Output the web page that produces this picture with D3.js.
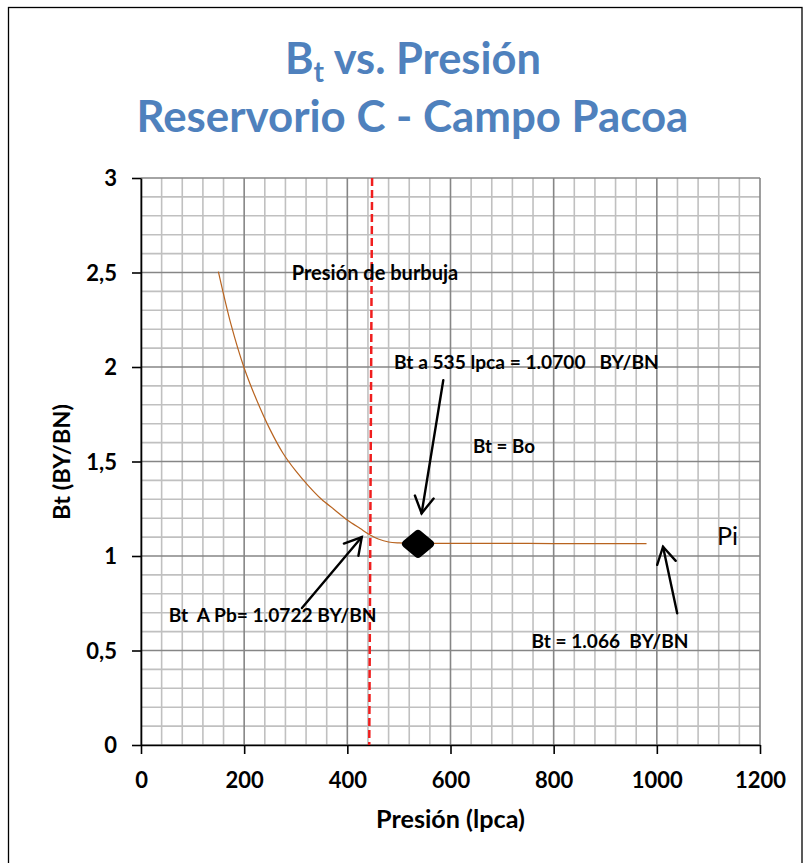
<!DOCTYPE html>
<html><head><meta charset="utf-8">
<script src="https://cdn.jsdelivr.net/npm/d3@7"></script>
<style>
html,body{margin:0;padding:0;background:#fff;}
text{font-family:Lato,"Noto Sans",sans-serif;}
</style></head>
<body>
<script>
// ---- data ----
const pressure = [150,175,200,225,250,275,300,325,350,375,400,425,445,460,480,500,535,600,700,800,900,980];
const btValues = [2.505,2.22,1.995,1.82,1.67,1.545,1.45,1.37,1.30,1.245,1.19,1.145,1.11,1.09,1.074,1.069,1.067,1.067,1.067,1.066,1.066,1.066];
const markerPoint = [{p:537, bt:1.064}];
const bubbleLine = [{p:448, bt:3.0},{p:442.5, bt:0}];
const xTicks = [0,200,400,600,800,1000,1200];
const yTicks = [0,0.5,1,1.5,2,2.5,3];
const arrows = [
  {from:[586,1.93], to:[544,1.226]},
  {from:[312,0.725], to:[428,1.10]},
  {from:[1039.5,0.697], to:[1012,1.049]}
];
const labels = [
  {text:"Presión de burbuja", p:292.2, bt:2.460},
  {text:"Bt a 535 lpca = 1.0700   BY/BN", p:490.5, bt:1.989},
  {text:"Bt = Bo", p:643.6, bt:1.545},
  {text:"Bt  A Pb= 1.0722 BY/BN", p:53.7, bt:0.652},
  {text:"Bt = 1.066  BY/BN", p:757, bt:0.512},
  {text:"Pi", p:1116.6, bt:1.058}
];
const labelWidths = [166.7, 265, 62, 208, 157, 21];
const labelWeights = ["bold","bold","bold","bold","bold","normal"];

// ---- layout ----
const W = 809, H = 863;
const svg = d3.select("body").append("svg").attr("width", W).attr("height", H);
svg.append("rect").attr("width", W).attr("height", H).attr("fill", "#fff");
svg.append("rect").attr("x", 8.5).attr("y", 7.5).attr("width", 793.5).attr("height", 880)
  .attr("fill", "none").attr("stroke", "#000").attr("stroke-width", 1.3);

const x = d3.scaleLinear().domain([0,1200]).range([141,760]);
const y = d3.scaleLinear().domain([0,3]).range([745,178]);

function fit(sel, target){
  const w = sel.node().getComputedTextLength();
  const fs = parseFloat(sel.attr("font-size"));
  sel.attr("font-size", fs*target/w);
}

// gridlines
const g = svg.append("g");
const minorX = d3.range(0, 1201, 40), minorY = d3.range(0, 31).map(d => d/10);
g.selectAll(".mx").data(minorX.filter(d => d % 200 !== 0)).join("line")
  .attr("x1", d => x(d)).attr("x2", d => x(d)).attr("y1", y(0)).attr("y2", y(3))
  .attr("stroke", "#c0c0c0").attr("stroke-width", 1.6);
g.selectAll(".my").data(minorY.filter(d => Math.round(d*10) % 5 !== 0)).join("line")
  .attr("class","my")
  .attr("x1", x(0)).attr("x2", x(1200)).attr("y1", d => y(d)).attr("y2", d => y(d))
  .attr("stroke", "#c0c0c0").attr("stroke-width", 1.6);
g.selectAll(".MX").data(xTicks).join("line").attr("class","MX")
  .attr("x1", d => x(d)).attr("x2", d => x(d)).attr("y1", y(0)).attr("y2", y(3))
  .attr("stroke", "#868686").attr("stroke-width", 1.6);
g.selectAll(".MY").data(yTicks).join("line").attr("class","MY")
  .attr("x1", x(0)).attr("x2", x(1200)).attr("y1", d => y(d)).attr("y2", d => y(d))
  .attr("stroke", "#868686").attr("stroke-width", 1.6);

// axes
const xAxis = svg.append("g").attr("transform", `translate(0,${y(0)})`)
  .call(d3.axisBottom(x).tickValues(xTicks).tickSize(9).tickSizeOuter(0).tickFormat(d3.format("d")));
const yAxis = svg.append("g").attr("transform", `translate(${x(0)},0)`)
  .call(d3.axisLeft(y).tickValues(yTicks).tickSize(9).tickSizeOuter(0).tickFormat(d => String(d).replace(".", ",")));
[xAxis, yAxis].forEach(a => {
  a.select(".domain").attr("stroke", "#000").attr("stroke-width", 1.6);
  a.selectAll(".tick line").attr("stroke", "#000").attr("stroke-width", 1.6);
  a.selectAll(".tick text").attr("font-family", "Lato").attr("font-weight", "bold")
    .attr("font-size", 22).attr("fill", "#000");
});
xAxis.selectAll(".tick text").attr("y", 0).attr("dy", null).attr("transform", "translate(0,43)");
yAxis.selectAll(".tick text").attr("x", -24).attr("dy", "0.36em");

// bubble point line
svg.append("path").datum(bubbleLine)
  .attr("d", d3.line().x(d => x(d.p)).y(d => y(d.bt)))
  .attr("stroke", "#f01e1e").attr("stroke-width", 2.5).attr("stroke-dasharray", "8,4").attr("fill", "none");

// curve
const series = pressure.map((p,i) => ({p, bt: btValues[i]}));
svg.append("path").datum(series)
  .attr("d", d3.line().x(d => x(d.p)).y(d => y(d.bt)).curve(d3.curveCatmullRom.alpha(0.5)))
  .attr("fill", "none").attr("stroke", "#b8631f").attr("stroke-width", 1.2);

// marker
svg.selectAll(".mk").data(markerPoint).join("path")
  .attr("transform", d => `translate(${x(d.p)},${y(d.bt)})`)
  .attr("d", "M-12,0 L0,-10 L12,0 L0,10 Z")
  .attr("fill", "#000").attr("stroke", "#000").attr("stroke-width", 8).attr("stroke-linejoin", "round");

// arrows
const ag = svg.append("g").attr("stroke", "#000").attr("stroke-width", 2.4).attr("fill", "none").attr("stroke-linecap", "round");
arrows.forEach(a => {
  const x0 = x(a.from[0]), y0 = y(a.from[1]), x1 = x(a.to[0]), y1 = y(a.to[1]);
  ag.append("line").attr("x1", x0).attr("y1", y0).attr("x2", x1).attr("y2", y1);
  const ang = Math.atan2(y0 - y1, x0 - x1), L = 19, h = 30*Math.PI/180;
  ag.append("path").attr("d",
    `M${x1 + L*Math.cos(ang-h)},${y1 + L*Math.sin(ang-h)} L${x1},${y1} L${x1 + L*Math.cos(ang+h)},${y1 + L*Math.sin(ang+h)}`)
    .attr("stroke-linejoin", "miter");
});

// annotation labels
labels.forEach((l,i) => {
  const t = svg.append("text").attr("x", x(l.p)).attr("y", y(l.bt))
    .attr("font-size", 16).attr("font-weight", labelWeights[i]).attr("fill", "#000")
    .style("white-space", "pre").text(l.text);
  fit(t, labelWidths[i]);
});

// axis titles
const xt = svg.append("text").attr("x", 450.5).attr("y", 828).attr("text-anchor", "middle")
  .attr("font-size", 20).attr("font-weight", "bold").text("Presión (lpca)");
fit(xt, 149);
const yt = svg.append("text").attr("transform", "translate(70,462) rotate(-90)").attr("text-anchor", "middle")
  .attr("font-size", 20).attr("font-weight", "bold").text("Bt (BY/BN)");
fit(yt, 116);

// chart title
const t1 = svg.append("text").attr("x", 285).attr("y", 74).attr("font-size", 40)
  .attr("font-weight", "bold").attr("fill", "#4f81bd");
t1.append("tspan").text("B");
t1.append("tspan").attr("font-size", "65%").attr("dy", "0.3em").text("t");
t1.append("tspan").attr("dy", "-0.195em").text(" vs. Presión");
fit(t1, 256);
const t2 = svg.append("text").attr("x", 136.5).attr("y", 132).attr("font-size", 40)
  .attr("font-weight", "bold").attr("fill", "#4f81bd").text("Reservorio C - Campo Pacoa");
fit(t2, 552);
</script>
</body></html>
